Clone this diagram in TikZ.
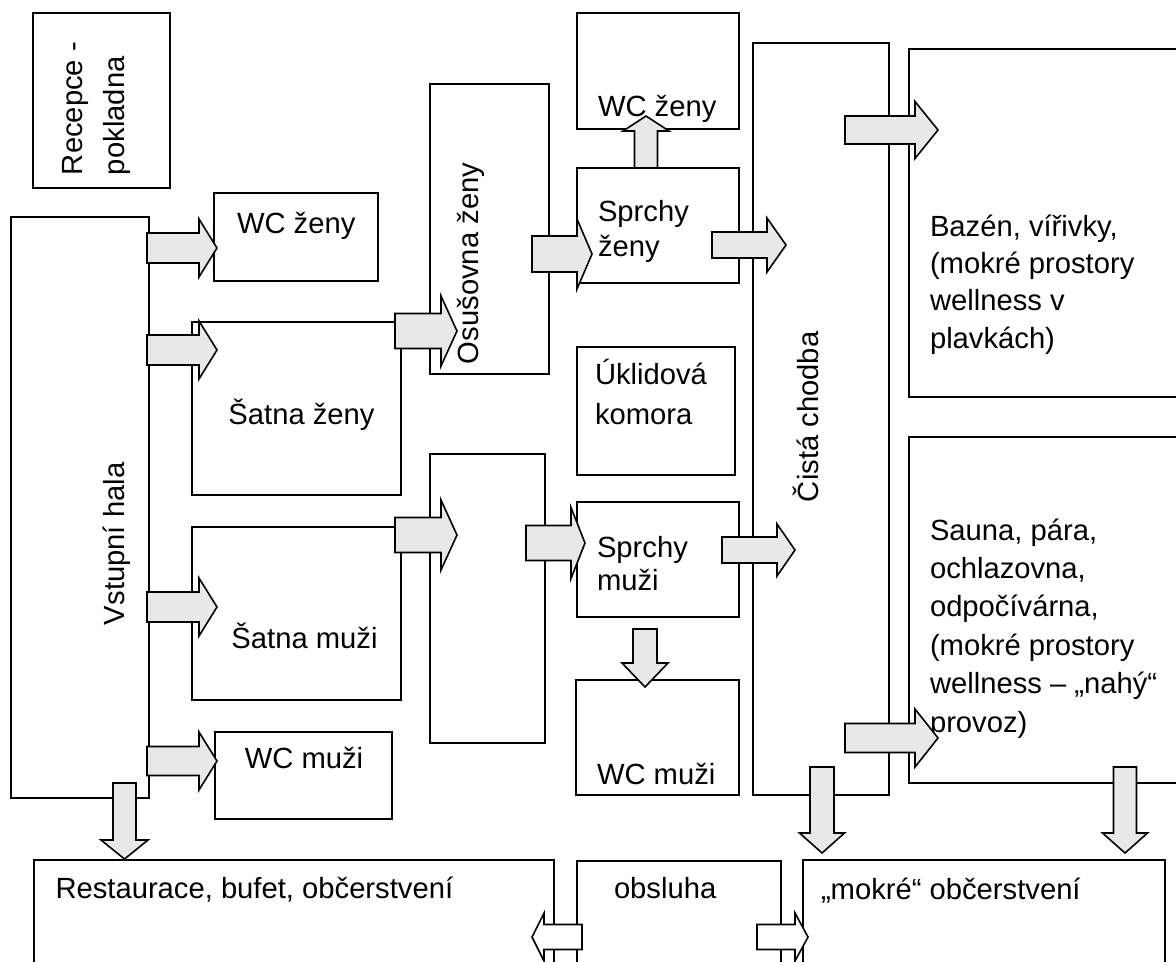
\documentclass[tikz,border=0pt]{standalone}
\usepackage{fontspec}
\setmainfont{Liberation Sans}
\usetikzlibrary{calc,fit}
\definecolor{arrgray}{RGB}{232,232,232}
\newcommand{\stacked}[2]{\vtop{\baselineskip=#1\relax\lineskiplimit=-20pt\relax #2}}
% [style]{tail}{tip}{shaft px}{head px}{head length px}
\newcommand{\blockarrow}[6][]{%
  \coordinate (ba-a) at #2;
  \coordinate (ba-b) at #3;
  \coordinate (ba-c) at ($(ba-b)!#6*0.75pt!(ba-a)$);
  \filldraw[arr,#1] ($(ba-a)!#4*0.375pt!90:(ba-b)$) -- ($(ba-c)!#4*0.375pt!-90:(ba-a)$)
    -- ($(ba-c)!#5*0.375pt!-90:(ba-a)$) -- (ba-b) -- ($(ba-c)!#5*0.375pt!90:(ba-a)$)
    -- ($(ba-c)!#4*0.375pt!90:(ba-a)$) -- ($(ba-a)!#4*0.375pt!-90:(ba-b)$) -- cycle;
}
\tikzset{
  room/.style={draw, line width=1.3pt, inner sep=0pt},
  arr/.style={draw, line width=1.2pt, fill=arrgray, line join=miter},
  warr/.style={fill=white},
  txt/.style={inner sep=0pt, outer sep=0pt, anchor=base west, font=\fontsize{21.9pt}{28.5pt}\selectfont},
}
\begin{document}
\begin{tikzpicture}[x=0.75pt, y=-0.75pt]
\useasboundingbox (0,0) rectangle (1176,961);
\clip (0,0) rectangle (1176,961);
% rooms
\node[room, fit={(33,13)(170,188)}] (recepce) {};
\node[room, fit={(11,217)(149,798)}] (hala) {};
\node[room, fit={(214,193)(378,281)}] (wcz1) {};
\node[room, fit={(192,322)(401,495)}] (satz) {};
\node[room, fit={(192,527)(401,700)}] (satm) {};
\node[room, fit={(215,732)(392,819)}] (wcm1) {};
\node[room, fit={(430,84)(549,374)}] (osuz) {};
\node[room, fit={(430,454)(545,743)}] (osum) {};
\node[room, fit={(577,13)(739,129)}] (wcz2) {};
\node[room, fit={(577,168)(739,283)}] (sprz) {};
\node[room, fit={(577,347)(735,475)}] (uklid) {};
\node[room, fit={(577,502)(739,617)}] (sprm) {};
\node[room, fit={(576,680)(739,795)}] (wcm2) {};
\node[room, fit={(753,43)(889,795)}] (chodba) {};
\node[room, fit={(909,49)(1200,397)}] (bazen) {};
\node[room, fit={(909,437)(1200,783)}] (sauna) {};
\node[room, fit={(34,860)(554,1000)}] (rest) {};
\node[room, fit={(577,861)(781,1000)}] (obsluha) {};
\node[room, fit={(803,860)(1165,1000)}] (mokre) {};
% texts
\node[txt, rotate=90] (trecepce) at (82,175) {\stacked{31.5pt}{\hbox{Recepce -}\hbox{pokladna}}};
\node[txt, rotate=90] (thala) at (124,625) {Vstupní hala};
\node[txt, rotate=90] (tosuz) at (478,364) {Osušovna ženy};
\node[txt, rotate=90] (tchodba) at (818,502) {Čistá chodba};
\node[txt] (twcz1) at (237,233) {WC ženy};
\node[txt, anchor=base] (tsatz) at (301.5,424) {Šatna ženy};
\node[txt, anchor=base] (tsatm) at (304.5,648) {Šatna muži};
\node[txt, anchor=base] (twcm1) at (304,768) {WC muži};
\node[txt] (twcz2) at (598,116) {WC ženy};
\node[txt] (tsprz) at (598,221) {\stacked{26.25pt}{\hbox{Sprchy}\hbox{ženy}}};
\node[txt] (tuklid) at (595,384) {\stacked{30pt}{\hbox{Úklidová}\hbox{komora}}};
\node[txt] (tsprm) at (597,557) {\stacked{25pt}{\hbox{Sprchy}\hbox{muži}}};
\node[txt] (twcm2) at (597,784) {WC muži};
\node[txt] (tbazen) at (930,236) {\stacked{28pt}{\hbox{Bazén, vířivky,}\hbox{(mokré prostory}\hbox{wellness v}\hbox{plavkách)}}};
\node[txt] (tsauna) at (930,540) {\stacked{28.8pt}{\hbox{Sauna, pára,}\hbox{ochlazovna,}\hbox{odpočívárna,}\hbox{(mokré prostory}\hbox{wellness – „nahý“}\hbox{provoz)}}};
\node[txt] (trest) at (55.5,898) {Restaurace, bufet, občerstvení};
\node[txt] (tobsluha) at (614,898) {obsluha};
\node[txt] (tmokre) at (821,899) {„mokré“ občerstvení};
% arrows
\blockarrow{(147,248)}{(217,248)}{30}{58}{18}
\blockarrow{(147,350)}{(217,350)}{30}{58}{18}
\blockarrow{(147,607)}{(217,607)}{30}{58}{18}
\blockarrow{(147,761)}{(217,761)}{29}{58}{18}
\blockarrow{(395,331)}{(457,331)}{35}{70}{16}
\blockarrow{(395,535)}{(457,535)}{35}{70}{16}
\blockarrow{(532,254)}{(592,254)}{36}{70}{15}
\blockarrow{(526,543)}{(585,543)}{35}{71}{14}
\blockarrow{(646,168)}{(646,116)}{23}{46}{15}
\blockarrow{(645,629)}{(645,687)}{24}{46}{24}
\blockarrow{(712,245)}{(786,245)}{26}{54}{19}
\blockarrow{(722,550)}{(795,550)}{26}{52}{18}
\blockarrow{(845,130)}{(938,130)}{28}{57}{23}
\blockarrow{(845,738)}{(938,738)}{29}{58}{23}
\blockarrow{(124.5,783)}{(124.5,859)}{23}{47}{19}
\blockarrow{(822,767)}{(822,853)}{24}{45}{20}
\blockarrow{(1125,767)}{(1125,853)}{23}{45}{20}
\blockarrow[warr]{(582,937)}{(532,937)}{25}{48}{12}
\blockarrow[warr]{(757,937)}{(808,937)}{25}{48}{13}
\end{tikzpicture}
\end{document}
